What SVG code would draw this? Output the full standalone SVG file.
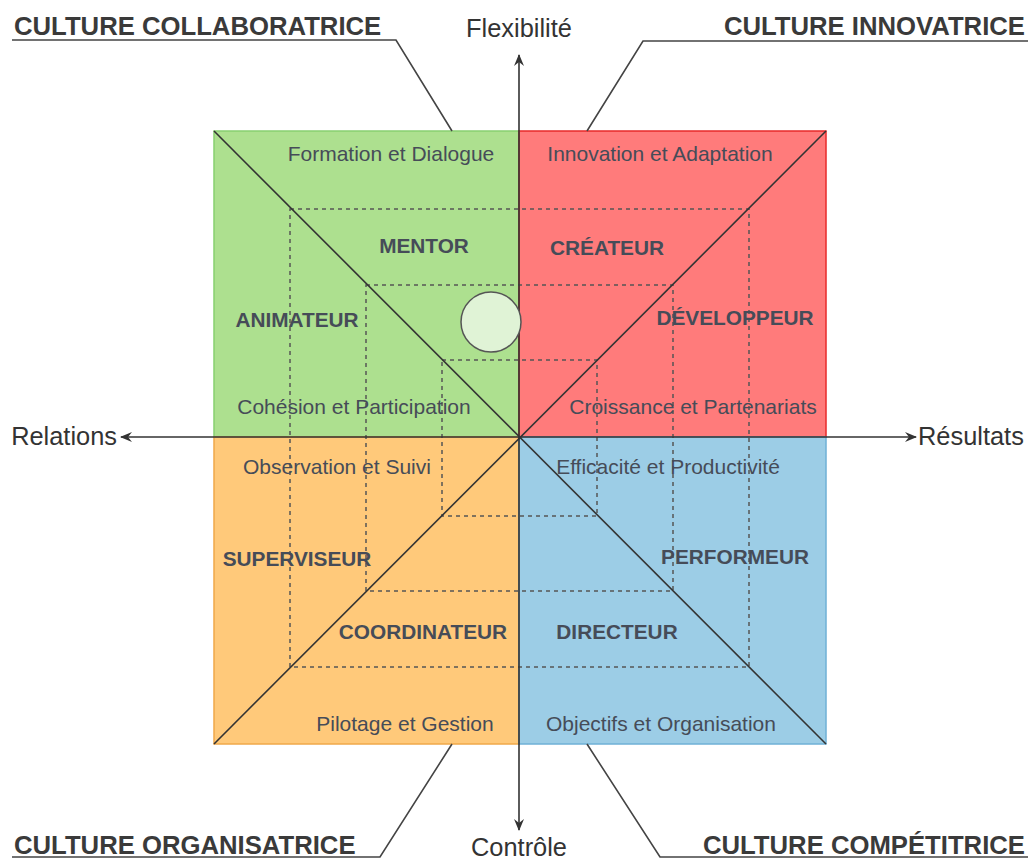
<svg xmlns="http://www.w3.org/2000/svg" width="1028" height="859" viewBox="0 0 1028 859">
<style>
.t{font-family:"Liberation Sans",Arial,sans-serif;font-size:21px;fill:#464c58;text-anchor:middle}
.b{font-family:"Liberation Sans",Arial,sans-serif;font-size:20.8px;font-weight:bold;fill:#464c58;text-anchor:middle}
.c{font-family:"Liberation Sans",Arial,sans-serif;font-size:25.7px;font-weight:bold;fill:#3a3a3a}
.a{font-family:"Liberation Sans",Arial,sans-serif;font-size:25.4px;fill:#333}
.d{fill:none;stroke:#555;stroke-width:1.5;stroke-dasharray:4 4}
.k{fill:none;stroke:#333;stroke-width:1.6}
.l{fill:none;stroke:#444;stroke-width:1.6}
</style>
<defs>
<marker id="ar" viewBox="0 0 12 10" refX="11" refY="5" markerWidth="12" markerHeight="10" markerUnits="userSpaceOnUse" orient="auto">
<path d="M0,0 L12,5 L0,10 L4,5 Z" fill="#333"/>
</marker>
</defs>
<rect width="1028" height="859" fill="#fff"/>
<g id="q-collab"><rect x="214" y="131" width="305" height="306" fill="#ade08f" stroke="#88d070" stroke-width="1.5"/></g>
<g id="q-innov"><rect x="519" y="131" width="307" height="306" fill="#ff7b7b" stroke="#e82a2a" stroke-width="1.5"/></g>
<g id="q-organ"><rect x="214" y="437" width="305" height="307" fill="#ffc97a" stroke="#f0a84a" stroke-width="1.5"/></g>
<g id="q-compet"><rect x="519" y="437" width="307" height="307" fill="#9ccde6" stroke="#6fb0d6" stroke-width="1.5"/></g>
<g id="connectors">
<rect class="d" x="290" y="209" width="459" height="458"/>
<rect class="d" x="366" y="285" width="307" height="306"/>
<rect class="d" x="442" y="360" width="155" height="156"/>
<line class="k" x1="214" y1="131" x2="826" y2="744"/>
<line class="k" x1="826" y1="131" x2="214" y2="744"/>
<line class="k" x1="519" y1="437" x2="519" y2="55" marker-end="url(#ar)"/>
<line class="k" x1="519" y1="437" x2="519" y2="830" marker-end="url(#ar)"/>
<line class="k" x1="519" y1="437" x2="121" y2="437" marker-end="url(#ar)"/>
<line class="k" x1="519" y1="437" x2="916" y2="437" marker-end="url(#ar)"/>
<polyline class="l" points="12,40 396,40 452,131"/>
<polyline class="l" points="1028,41 643,41 587,131"/>
<polyline class="l" points="12,857 380,857 452,744"/>
<polyline class="l" points="1028,857 660,857 587,744"/>
</g>
<g id="marker-circle"><circle cx="491" cy="322" r="30" fill="#e0f3d6" stroke="#555" stroke-width="1.5"/></g>
<g id="labels-axes">
<text class="a" x="519" y="37" text-anchor="middle">Flexibilité</text>
<text class="a" x="519" y="856" text-anchor="middle">Contrôle</text>
<text class="a" x="117" y="445" text-anchor="end">Relations</text>
<text class="a" x="918" y="445">Résultats</text>
</g>
<g id="labels-cultures">
<text class="c" x="14" y="35">CULTURE COLLABORATRICE</text>
<text class="c" x="1025" y="35" text-anchor="end">CULTURE INNOVATRICE</text>
<text class="c" x="14" y="854">CULTURE ORGANISATRICE</text>
<text class="c" x="1025" y="854" text-anchor="end">CULTURE COMPÉTITRICE</text>
</g>
<g id="labels-values">
<text class="t" x="391" y="161">Formation et Dialogue</text>
<text class="t" x="660" y="161">Innovation et Adaptation</text>
<text class="t" x="354" y="414">Cohésion et Participation</text>
<text class="t" x="693" y="414">Croissance et Partenariats</text>
<text class="t" x="337" y="474">Observation et Suivi</text>
<text class="t" x="668" y="474">Efficacité et Productivité</text>
<text class="t" x="405" y="731">Pilotage et Gestion</text>
<text class="t" x="661" y="731">Objectifs et Organisation</text>
</g>
<g id="labels-roles">
<text class="b" x="424" y="253">MENTOR</text>
<text class="b" x="607" y="255">CRÉATEUR</text>
<text class="b" x="297" y="327">ANIMATEUR</text>
<text class="b" x="735" y="325">DÉVELOPPEUR</text>
<text class="b" x="297" y="566">SUPERVISEUR</text>
<text class="b" x="735" y="564">PERFORMEUR</text>
<text class="b" x="423" y="639">COORDINATEUR</text>
<text class="b" x="617" y="639">DIRECTEUR</text>
</g>
</svg>
